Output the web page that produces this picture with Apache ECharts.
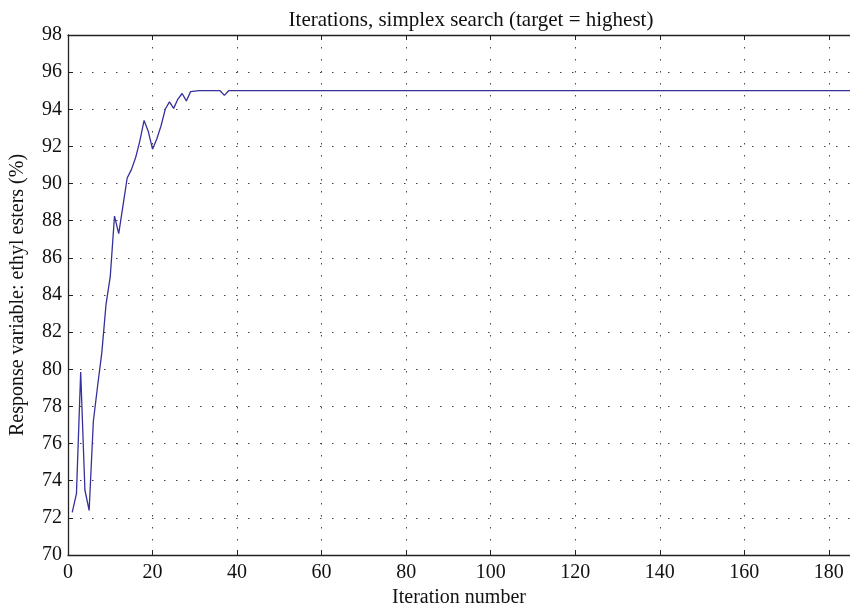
<!DOCTYPE html>
<html>
<head>
<meta charset="utf-8">
<script src="https://cdn.jsdelivr.net/npm/echarts@6/dist/echarts.min.js"></script>
<style>
  html, body { margin: 0; padding: 0; background: #fff; }
  #main { width: 850px; height: 614px; }
</style>
</head>
<body>
<div id="main"></div>
<script>
// iteration numbers and response values
const iterations = [1, 2, 3, 4, 5, 6, 7, 8, 9, 10,
  11, 12, 13, 14, 15, 16, 17, 18, 19, 20,
  21, 22, 23, 24, 25, 26, 27, 28, 29, 30,
  31, 32, 33, 34, 35, 36, 37, 38, 39, 185];
const response = [72.3, 73.3, 79.85, 73.5, 72.4, 77.2, 79.1, 80.9, 83.5, 85.0,
  88.25, 87.3, 88.8, 90.3, 90.75, 91.4, 92.3, 93.4, 92.8, 91.85,
  92.4, 93.1, 94.0, 94.4, 94.05, 94.55, 94.85, 94.45, 94.95, 94.98,
  95.0, 95.0, 95.0, 95.0, 95.0, 95.0, 94.75, 95.0, 95.0, 95.0];
const xTicks = [0, 20, 40, 60, 80, 100, 120, 140, 160, 180];
const yTicks = [70, 72, 74, 76, 78, 80, 82, 84, 86, 88, 90, 92, 94, 96, 98];

const font = "Liberation Serif";
const gridLine = { show: true, lineStyle: { color: "#444", width: 1, type: [1.5, 10.5] } };

const chart = echarts.init(document.getElementById("main"));
chart.setOption({
  animation: false,
  title: {
    text: "Iterations, simplex search (target = highest)",
    left: 466, top: 5, textAlign: "center",
    textStyle: { fontFamily: font, fontSize: 21, fontWeight: "normal", color: "#111" }
  },
  grid: { left: 68, right: 0, top: 35, bottom: 59 },
  xAxis: [{
    type: "value",
    min: 0, max: 185, interval: 20,
    name: "Iteration number",
    nameLocation: "middle", nameGap: 31,
    nameTextStyle: { fontFamily: font, fontSize: 20, color: "#111" },
    axisLine: { lineStyle: { color: "#222", width: 1.3 } },
    axisTick: { inside: true, length: 5, lineStyle: { color: "#222" } },
    axisLabel: {
      fontFamily: font, fontSize: 20, color: "#111", margin: 8,
      showMaxLabel: false,
      formatter: v => xTicks.includes(v) ? String(v) : ""
    },
    splitLine: gridLine
  }, {
    type: "value", position: "top",
    min: 0, max: 185, interval: 20,
    axisLine: { show: true, lineStyle: { color: "#222", width: 1.3 } },
    axisTick: { show: true, inside: true, length: 5, lineStyle: { color: "#222" } },
    axisLabel: { show: false },
    splitLine: { show: false }
  }],
  yAxis: {
    type: "value",
    min: 70, max: 98, interval: 2,
    name: "Response variable: ethyl esters (%)",
    nameLocation: "middle", nameGap: 40,
    nameTextStyle: { fontFamily: font, fontSize: 20, color: "#111" },
    axisLine: { show: true, lineStyle: { color: "#222", width: 1.3 } },
    axisTick: { show: true, inside: true, length: 5, lineStyle: { color: "#222" } },
    axisLabel: {
      fontFamily: font, fontSize: 20, color: "#111", margin: 6,
      formatter: v => yTicks.includes(v) ? String(v) : ""
    },
    splitLine: gridLine
  },
  series: [{
    type: "line",
    data: iterations.map((x, i) => [x, response[i]]),
    showSymbol: false,
    lineStyle: { color: "#35309a", width: 1.3 },
    clip: true
  }]
});
</script>
</body>
</html>
